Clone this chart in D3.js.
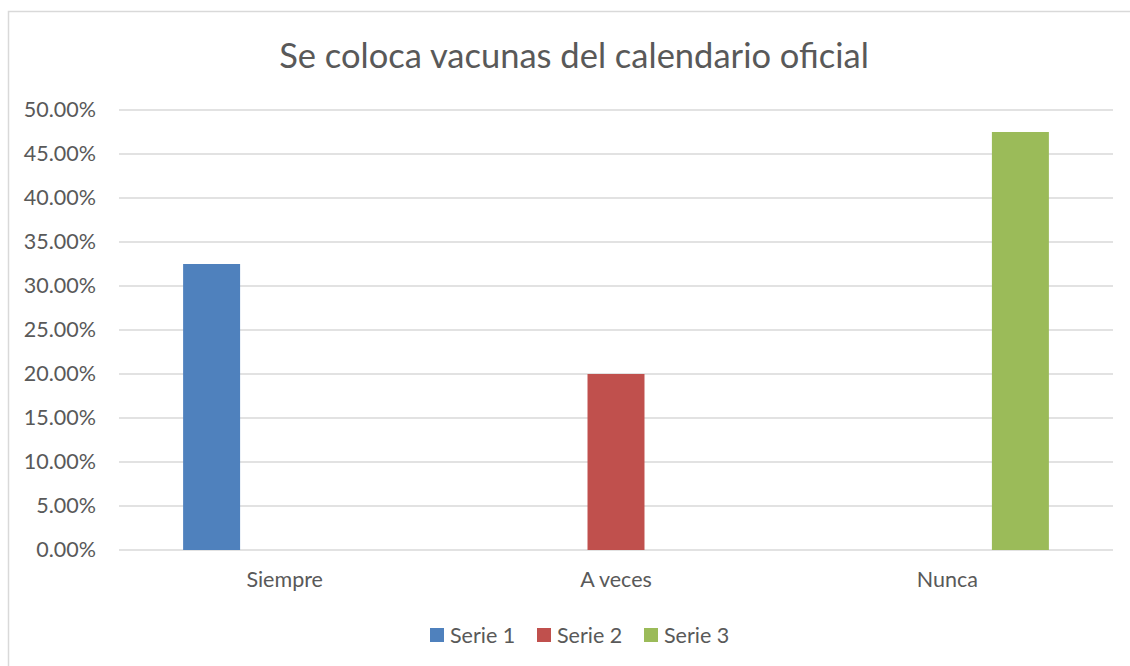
<!DOCTYPE html>
<html><head><meta charset="utf-8">
<script src="https://cdn.jsdelivr.net/npm/d3@7"></script>
<style>
html,body{margin:0;padding:0;background:#fff;}
text{font-family:Lato, "Open Sans", sans-serif;fill:#595959;}
</style></head>
<body><svg id="chart" width="1130" height="666"></svg>
<script>
const title = "Se coloca vacunas del calendario oficial";
const categories = ["Siempre", "A veces", "Nunca"];
const seriesNames = ["Serie 1", "Serie 2", "Serie 3"];
const serie1 = [0.325, 0, 0];
const serie2 = [0, 0.20, 0];
const serie3 = [0, 0, 0.475];
const yTicks = [0, 0.05, 0.10, 0.15, 0.20, 0.25, 0.30, 0.35, 0.40, 0.45, 0.50];
const colors = ["#4f81bd", "#c0504d", "#9bbb59"];

const seriesValues = [serie1, serie2, serie3];
const svg = d3.select("#chart");
// outer chart border
svg.append("rect").attr("x", 8.5).attr("y", 11.5).attr("width", 1140).attr("height", 680)
  .attr("fill", "none").attr("stroke", "#d9d9d9").attr("stroke-width", 1.5);

const pLeft = 119, pRight = 1113, pTop = 110, pBottom = 550;
const y = d3.scaleLinear().domain([0, 0.5]).range([pBottom, pTop]);
const pi = 0.387;
const x0 = d3.scaleBand().domain(categories).range([pLeft, pRight]).paddingInner(pi).paddingOuter(pi / 2);
const x1 = d3.scaleBand().domain(seriesNames).range([0, x0.bandwidth()]).paddingInner(0.22).paddingOuter(0);

// gridlines
svg.append("g").selectAll("line").data(yTicks).join("line")
  .attr("x1", pLeft).attr("x2", pRight)
  .attr("y1", d => y(d)).attr("y2", d => y(d))
  .attr("stroke", "#d9d9d9").attr("stroke-width", 1.3);

// y axis labels
const yAxis = d3.axisLeft(y).tickValues(yTicks).tickFormat(d => (d * 100).toFixed(2) + "%").tickSize(0).tickPadding(0);
const ga = svg.append("g").attr("transform", `translate(96,0)`).call(yAxis);
ga.select(".domain").remove();
ga.selectAll("text").attr("font-size", "21.5px").attr("fill", "#595959").attr("font-family", "Lato");

// x axis labels
const xAxis = d3.axisBottom(x0).tickSize(0).tickPadding(0).tickSizeOuter(0);
const gx = svg.append("g").attr("transform", `translate(0,${pBottom + 22})`).call(xAxis);
gx.select(".domain").remove();
gx.selectAll("text").attr("font-size", "21.5px").attr("fill", "#595959").attr("font-family", "Lato");

// bars
const data = [];
categories.forEach((c, i) => seriesNames.forEach((s, j) => data.push({c, s, v: seriesValues[j][i], j})));
svg.append("g").selectAll("rect").data(data.filter(d => d.v > 0)).join("rect")
  .attr("x", d => x0(d.c) + x1(d.s))
  .attr("width", x1.bandwidth())
  .attr("y", d => y(d.v))
  .attr("height", d => y(0) - y(d.v))
  .attr("fill", d => colors[d.j]);

// title
svg.append("text").attr("x", 574).attr("y", 68).attr("text-anchor", "middle")
  .attr("font-size", "34.5px").text(title);

// legend
const legendX = [430, 537, 644];
const lg = svg.append("g").selectAll("g").data(seriesNames).join("g")
  .attr("transform", (d, i) => `translate(${legendX[i]},628)`);
lg.append("rect").attr("width", 14).attr("height", 14).attr("fill", (d, i) => colors[i]);
lg.append("text").attr("x", 20).attr("y", 14.5).attr("font-size", "21.5px").text(d => d);
</script></body></html>
